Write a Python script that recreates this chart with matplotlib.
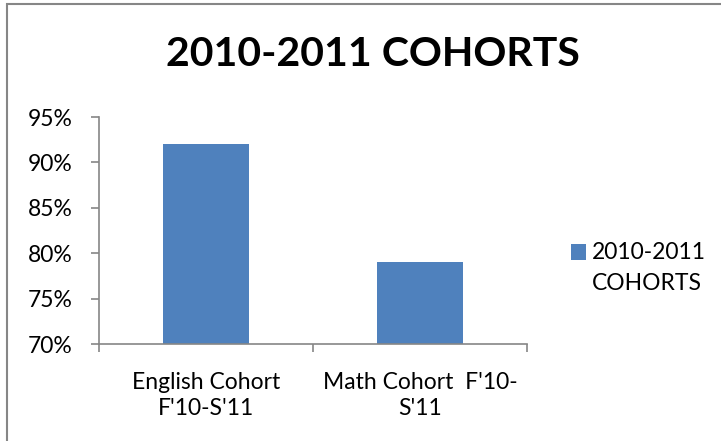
import matplotlib.pyplot as plt
from matplotlib.patches import Rectangle

# Chart data
categories = ["English Cohort\nF'10-S'11", "Math Cohort  F'10-\nS'11"]
values = [92, 79]
series_name = "2010-2011\nCOHORTS"
title = "2010-2011 COHORTS"
y_ticks = [70, 75, 80, 85, 90, 95]

plt.rcParams['font.family'] = ['Lato', 'DejaVu Sans']
axis_color = '#868686'
bar_color = '#4F81BD'
fs = 16.5

fig = plt.figure(figsize=(7.21, 4.41), dpi=100)
ax = fig.add_axes([99 / 721, 1 - 344 / 441, (527 - 99) / 721, (344 - 117) / 441])

x = list(range(len(categories)))
ax.bar(x, values, width=0.4, color=bar_color, label=series_name, zorder=2)

ax.set_xlim(-0.5, len(categories) - 0.5)
ax.set_ylim(70, 95)
ax.set_yticks(y_ticks)
ax.set_yticklabels([f"{t}%" for t in y_ticks], fontsize=fs)

# category labels centered, ticks at boundaries
ax.set_xticks([i - 0.5 for i in range(len(categories) + 1)])
ax.set_xticklabels([])
ax.set_xticks(x, minor=True)
ax.set_xticklabels(categories, minor=True, fontsize=fs, linespacing=1.3)
ax.tick_params(axis='x', which='minor', length=0, pad=20)
ax.tick_params(axis='x', which='major', length=6, color=axis_color, width=1.2)
ax.tick_params(axis='y', length=6, color=axis_color, width=1.2, pad=13)

for side in ['top', 'right']:
    ax.spines[side].set_visible(False)
for side in ['left', 'bottom']:
    ax.spines[side].set_color(axis_color)
    ax.spines[side].set_linewidth(1.2)

fig.text(373 / 721, 1 - 55 / 441, title, ha='center', va='center',
         fontsize=29.5, fontweight='bold')

leg = ax.legend(loc='center left', bbox_to_anchor=(560 / 721, 1 - 268 / 441),
                bbox_transform=fig.transFigure, frameon=False, fontsize=fs,
                handlelength=0.65, handleheight=0.68, handletextpad=0.25,
                borderpad=0)
for t in leg.get_texts():
    t.set_linespacing(1.55)
# Excel puts the marker beside the first line of a wrapped entry
h = leg.legend_handles[0]
h.set_y(h.get_y() + 12)

# outer chart border
fig.patches.append(Rectangle((7 / 721, -0.1), 1.1, 1 - 4 / 441 + 0.1,
                             transform=fig.transFigure, fill=False,
                             edgecolor=axis_color, linewidth=1.5))

fig.savefig("out.png", dpi=100)
